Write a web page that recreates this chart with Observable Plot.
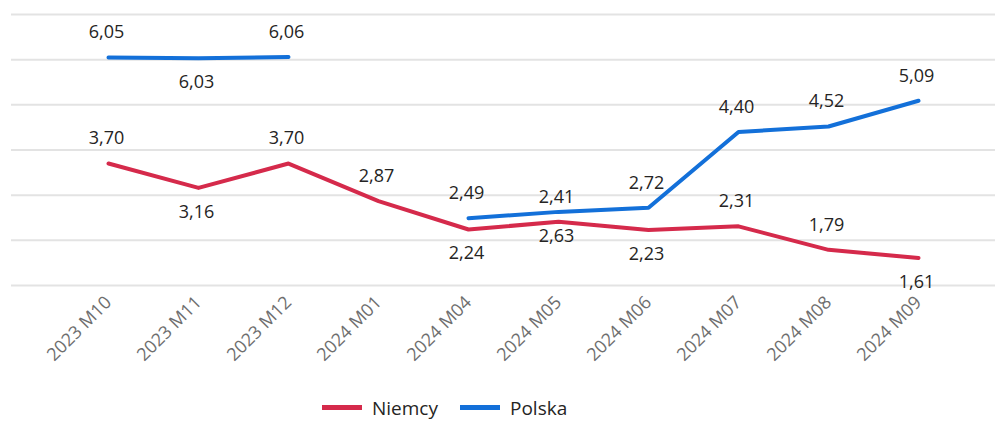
<!DOCTYPE html>
<html>
<head>
<meta charset="utf-8">
<script src="https://cdn.jsdelivr.net/npm/d3@7"></script>
<script src="https://cdn.jsdelivr.net/npm/@observablehq/plot@0.6"></script>
<style>
  html, body { margin: 0; padding: 0; background: #fff; }
  body { font-family: "Open Sans", "Noto Sans", sans-serif; width: 995px; height: 421px; overflow: hidden; }
  #legend { display: flex; align-items: center; height: 25px; padding-left: 322px; font-size: 19px; line-height: 24px; color: #252423; }
  .item { display: flex; align-items: center; margin-right: 22px; }
  .sw { width: 40px; height: 5px; margin-right: 10px; }
</style>
</head>
<body>
<div id="chart"></div>
<div id="legend"></div>
<script>
const months = ["2023 M10", "2023 M11", "2023 M12", "2024 M01", "2024 M04", "2024 M05", "2024 M06", "2024 M07", "2024 M08", "2024 M09"];
const niemcy = [3.70, 3.16, 3.70, 2.87, 2.24, 2.41, 2.23, 2.31, 1.79, 1.61];
const polska = [6.05, 6.03, 6.06, null, 2.49, 2.63, 2.72, 4.40, 4.52, 5.09];
const niemcyLabelSide = ["above", "below", "above", "above", "below", "above", "below", "above", "above", "below"];
const polskaLabelSide = ["above", "below", "above", null, "above", "below", "above", "above", "above", "above"];
const seriesNames = ["Niemcy", "Polska"];
const seriesColors = ["#D52A4B", "#1370D9"];
const yTicks = [1, 2, 3, 4, 5, 6, 7];

const seriesValues = [niemcy, polska];
const seriesSides = [niemcyLabelSide, polskaLabelSide];
const rows = [];
seriesNames.forEach((name, s) => {
  months.forEach((m, i) => {
    rows.push({ month: m, value: seriesValues[s][i], series: name, side: seriesSides[s][i] });
  });
});
const fmt = d => d.value.toFixed(2).replace(".", ",");
const valid = rows.filter(d => d.value != null);

const chart = Plot.plot({
  width: 995,
  height: 395,
  marginTop: 14,
  marginBottom: 110,
  marginLeft: 11,
  marginRight: 0,
  style: { fontFamily: "'Open Sans', 'Noto Sans', sans-serif", background: "#fff" },
  x: { type: "point", domain: months, range: [104, 921], padding: 0 },
  y: { domain: [1, 7], axis: null },
  color: { domain: seriesNames, range: seriesColors },
  marks: [
    Plot.ruleY(yTicks, { stroke: "#e3e3e3", strokeWidth: 2 }),
    Plot.axisX({ tickRotate: -45, tickSize: 0, tickPadding: 14, fontSize: 18, color: "#6e6e6e", label: null }),
    Plot.line(rows, { x: "month", y: "value", z: "series", stroke: "series", strokeWidth: 4, strokeLinecap: "round" }),
    Plot.text(valid.filter(d => d.side === "above"), { x: "month", y: "value", text: fmt, dx: -2, dy: -25, fontSize: 18, fill: "#252423" }),
    Plot.text(valid.filter(d => d.side === "below"), { x: "month", y: "value", text: fmt, dx: -2, dy: 24, fontSize: 18, fill: "#252423" })
  ]
});
document.getElementById("chart").appendChild(chart);

const legend = document.getElementById("legend");
seriesNames.forEach((name, i) => {
  const item = document.createElement("div");
  item.className = "item";
  const sw = document.createElement("div");
  sw.className = "sw";
  sw.style.background = seriesColors[i];
  const t = document.createElement("span");
  t.textContent = name;
  item.appendChild(sw);
  item.appendChild(t);
  legend.appendChild(item);
});
</script>
</body>
</html>
